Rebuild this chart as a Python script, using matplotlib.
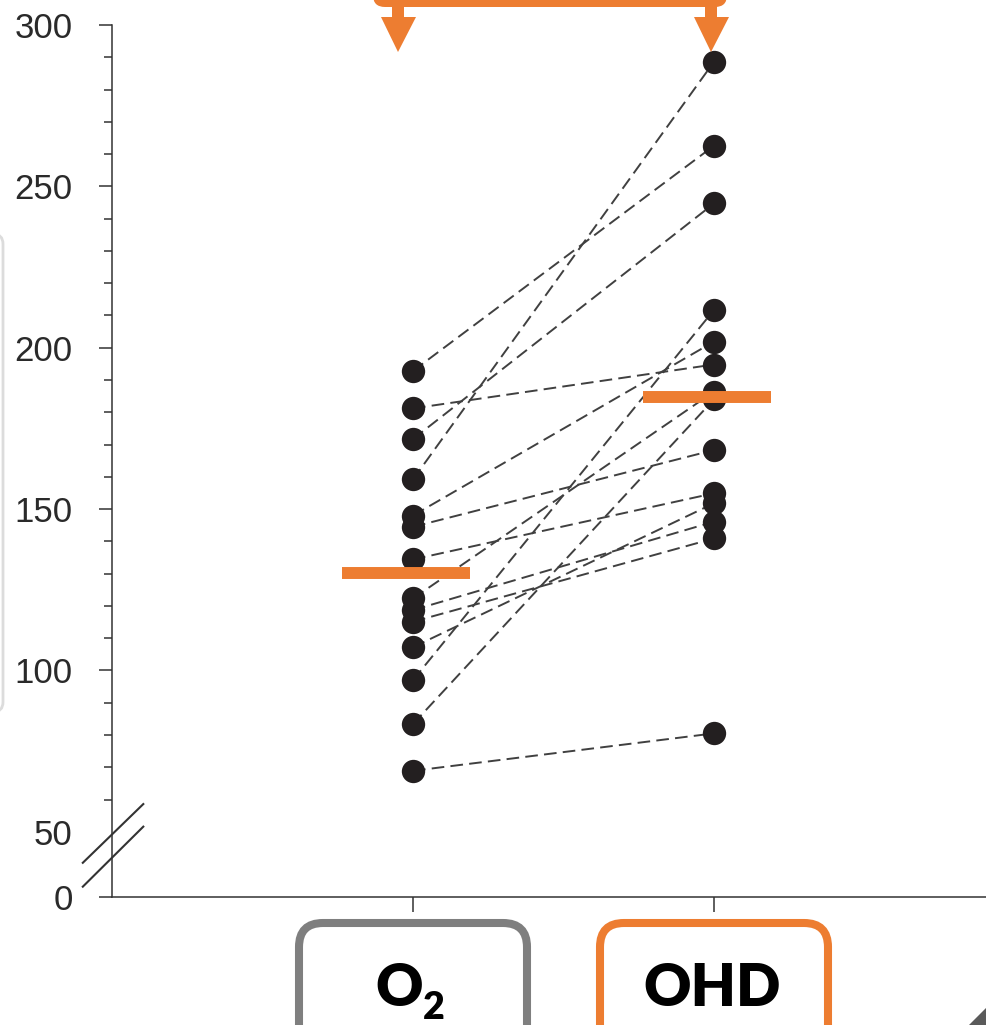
import matplotlib
matplotlib.use("Agg")
import matplotlib.pyplot as plt
from matplotlib.patches import FancyBboxPatch, Polygon, Rectangle


# Paired values (same patient on each row)
GROUPS = ["O2", "OHD"]
O2_VALUES = [192.8, 181.2, 171.7, 159.2, 148.0, 144.5, 134.4,
             122.3, 118.7, 115.1, 107.2, 97.0, 83.4, 68.9]
OHD_VALUES = [262.6, 194.8, 244.7, 288.6, 201.9, 168.3, 154.9,
              186.4, 146.1, 140.9, 151.8, 211.7, 184.0, 80.5]
MEANS = [130.2, 184.8]

# y axis is broken between 0 and 50, so "0" sits at the bottom of the axis
Y_BOTTOM = 29.8
Y_TICKS = [Y_BOTTOM, 50, 100, 150, 200, 250, 300]
Y_TICK_LABELS = ["0", "50", "100", "150", "200", "250", "300"]
Y_MINOR = [v for v in range(60, 300, 10) if v % 50 != 0]

ORANGE = "#ED7D31"
GREY = "#7F7F7F"
INK = "#333333"
W, H = 986, 1025


def draw_chart(fig):
    ax = fig.add_axes([112 / W, 128 / H, 1 - 112 / W, 872 / H])
    ax.set_xlim(-1, (W - 413) / 301)
    ax.set_ylim(Y_BOTTOM, 300)

    # dashed lines linking each pair
    for a, b in zip(O2_VALUES, OHD_VALUES):
        ax.plot([0, 1], [a, b], ls=(0, (6.5, 3.2)), lw=1.4, color="#404040", zorder=2)

    ax.plot([0] * len(O2_VALUES), O2_VALUES, "o", ms=16.8, color="#231f20",
            mec="none", zorder=3)
    ax.plot([1] * len(OHD_VALUES), OHD_VALUES, "o", ms=16.8, color="#231f20",
            mec="none", zorder=3)

    # mean bars
    for i, m in enumerate(MEANS):
        ax.hlines(m, i - 0.236, i + 0.19, color=ORANGE, lw=8.6, zorder=4,
                  capstyle="butt")

    for side in ["top", "right"]:
        ax.spines[side].set_visible(False)
    for side in ["left", "bottom"]:
        ax.spines[side].set_color(INK)
        ax.spines[side].set_linewidth(1.1)

    ax.set_xticks([0, 1])
    ax.set_xticklabels([])
    ax.tick_params(axis="x", direction="out", length=10.8, width=1.1, color=INK)

    ax.set_yticks(Y_TICKS)
    ax.set_yticklabels(Y_TICK_LABELS, fontsize=25, color="#2a2a2a",
                       family="Liberation Sans")
    ax.set_yticks(Y_MINOR, minor=True)
    ax.tick_params(axis="y", which="major", direction="out", length=9.4,
                   width=1.1, color=INK, pad=19)
    ax.tick_params(axis="y", which="minor", direction="out", length=5.8,
                   width=1.1, color=INK)
    # no tick mark at 50, the break sits there
    ax.yaxis.get_major_ticks()[1].tick1line.set_visible(False)

    # axis break marks
    for lo, hi in [(40.4, 58.6), (33.0, 51.6)]:
        ax.plot([-1.097, -0.896], [lo, hi], color=INK, lw=1.5, clip_on=False,
                zorder=5)
    return ax


def draw_decorations(fig, ax):
    deco = fig.add_axes([0, 0, 1, 1], zorder=-1)
    deco.set_xlim(0, W)
    deco.set_ylim(H, 0)
    deco.axis("off")
    top = fig.add_axes([0, 0, 1, 1], zorder=5)
    top.set_xlim(0, W)
    top.set_ylim(H, 0)
    top.axis("off")
    top.patch.set_alpha(0)

    # pixel x of each category, so boxes and arrows follow the axis
    px = [ax.transData.transform((i, 0))[0] for i in range(len(GROUPS))]

    # category boxes under the axis
    for x, col in zip(px, [GREY, ORANGE]):
        deco.add_patch(FancyBboxPatch((x - 114, 923), 228, 160,
                                      boxstyle="round,pad=0,rounding_size=24",
                                      fc="white", ec=col, lw=5.8))
    deco.text(px[0] + 10, 1006, "O", ha="right", va="baseline", fontsize=42,
              fontweight="heavy", family="Lato", color="black")
    deco.text(px[0] + 10, 1019, "2", ha="left", va="baseline", fontsize=27,
              fontweight="heavy", family="Lato", color="black")
    deco.text(px[1] - 2, 1006, "OHD", ha="center", va="baseline", fontsize=42,
              fontweight="heavy", family="Lato", color="black")

    # orange bracket with arrows at the top
    tips = [px[0] - 15, px[1] - 3]
    top.add_patch(FancyBboxPatch((tips[0] - 25, -40), tips[1] - tips[0] + 41, 47,
                                 boxstyle="round,pad=0,rounding_size=12",
                                 fc=ORANGE, ec="none"))
    for t in tips:
        top.add_patch(Rectangle((t - 6, 4), 12, 15, fc=ORANGE, ec="none"))
        top.add_patch(Polygon([(t - 17, 17), (t + 18, 17), (t, 52)],
                              closed=True, fc=ORANGE, ec="none"))

    # faint edge of a neighbouring panel and the page corner
    deco.add_patch(FancyBboxPatch((-300, 234), 303, 478,
                                  boxstyle="round,pad=0,rounding_size=10",
                                  fc="none", ec="#dcdcdc", lw=2))
    deco.add_patch(Polygon([(W, 1008), (W, H), (969, H)], closed=True,
                           fc="#5a5a5a", ec="none"))


def main():
    fig = plt.figure(figsize=(W / 100, H / 100), dpi=100)
    ax = draw_chart(fig)
    draw_decorations(fig, ax)
    fig.savefig("out.png", dpi=100)


if __name__ == "__main__":
    main()
